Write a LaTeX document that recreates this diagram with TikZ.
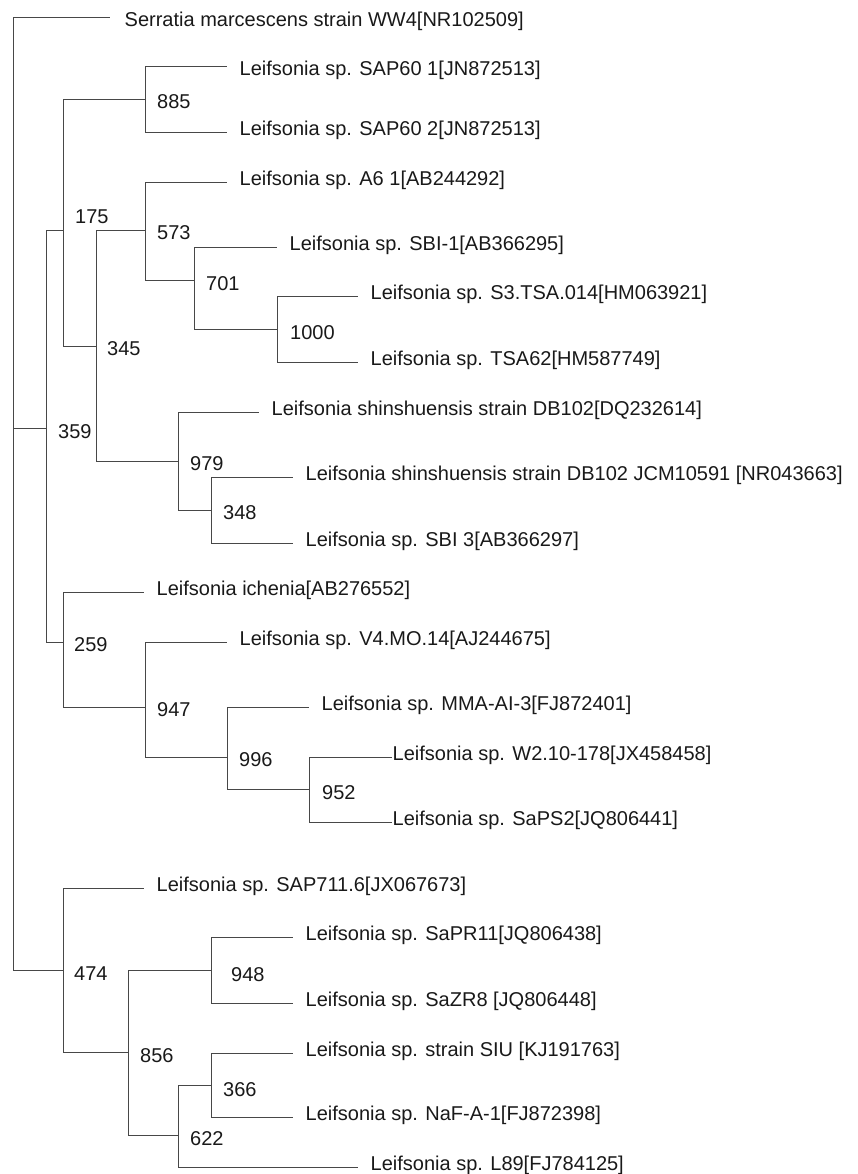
\documentclass[tikz,border=0pt]{standalone}
\usepackage{fontspec}
\setmainfont{Liberation Sans}
\begin{document}
\begin{tikzpicture}[x=1pt,y=-1pt,
  branch/.style={draw=black!72,line width=0.9pt},
  leaf/.style={anchor=west,inner xsep=12.5pt,inner ysep=0pt,text height=10pt,text depth=3.4pt,
    font=\fontsize{20}{24}\selectfont,text=black!90},
  leaflow/.style={leaf,text height=20.6pt,text depth=1pt},
  boot/.style={anchor=base west,inner sep=0pt,font=\fontsize{20}{24}\selectfont,text=black!90}]
\useasboundingbox (0,0) rectangle (857,1174);
% internal nodes
\coordinate (r) at (13,428);
\coordinate (n359) at (46,428);
\coordinate (n175) at (63,230);
\coordinate (n885) at (145,99);
\coordinate (n345) at (96,346);
\coordinate (n573) at (145,230);
\coordinate (n701) at (194,280);
\coordinate (n1000) at (277,329);
\coordinate (n979) at (178,461);
\coordinate (n348) at (211,510);
\coordinate (n259) at (63,642);
\coordinate (n947) at (145,707);
\coordinate (n996) at (227,757);
\coordinate (n952) at (309,789);
\coordinate (n474) at (63,970);
\coordinate (n856) at (128,1052);
\coordinate (n948) at (211,970);
\coordinate (n622) at (178,1135);
\coordinate (n366) at (211,1085);
% leaves
\node[leaflow,inner xsep=14.5pt] (lser) at (110,17) {Serratia marcescens strain WW4[NR102509]};
\node[leaflow] (l1) at (227,66) {Leifsonia sp. SAP60 1[JN872513]};
\node[leaf] (l2) at (227,132) {Leifsonia sp. SAP60 2[JN872513]};
\node[leaf] (l3) at (227,182) {Leifsonia sp. A6 1[AB244292]};
\node[leaf] (l4) at (277,247) {Leifsonia sp. SBI-1[AB366295]};
\node[leaf] (l5) at (358,296) {Leifsonia sp. S3.TSA.014[HM063921]};
\node[leaf] (l6) at (358,362) {Leifsonia sp. TSA62[HM587749]};
\node[leaf] (l7) at (259,412) {Leifsonia shinshuensis strain DB102[DQ232614]};
\node[leaf] (l8) at (293,477) {Leifsonia shinshuensis strain DB102 JCM10591 [NR043663]};
\node[leaf] (l9) at (293,543) {Leifsonia sp. SBI 3[AB366297]};
\node[leaf] (l10) at (144,592) {Leifsonia ichenia[AB276552]};
\node[leaf] (l11) at (227,642) {Leifsonia sp. V4.MO.14[AJ244675]};
\node[leaf] (l12) at (309,707) {Leifsonia sp. MMA-AI-3[FJ872401]};
\node[leaf,inner xsep=0.5pt] (l13) at (392,757) {Leifsonia sp. W2.10-178[JX458458]};
\node[leaf,inner xsep=0.5pt] (l14) at (392,822) {Leifsonia sp. SaPS2[JQ806441]};
\node[leaf] (l15) at (144,888) {Leifsonia sp. SAP711.6[JX067673]};
\node[leaf] (l16) at (293,937) {Leifsonia sp. SaPR11[JQ806438]};
\node[leaf] (l17) at (293,1003) {Leifsonia sp. SaZR8 [JQ806448]};
\node[leaf] (l18) at (293,1053) {Leifsonia sp. strain SIU [KJ191763]};
\node[leaf] (l19) at (293,1117.5) {Leifsonia sp. NaF-A-1[FJ872398]};
\node[leaf] (l20) at (358,1167) {Leifsonia sp. L89[FJ784125]};
% branches
\draw[branch] (r) |- (lser.west);
\draw[branch] (r) |- (n359);
\draw[branch] (r) |- (n474);
\draw[branch] (n359) |- (n175);
\draw[branch] (n359) |- (n259);
\draw[branch] (n175) |- (n885);
\draw[branch] (n175) |- (n345);
\draw[branch] (n885) |- (l1.west);
\draw[branch] (n885) |- (l2.west);
\draw[branch] (n345) |- (n573);
\draw[branch] (n345) |- (n979);
\draw[branch] (n573) |- (l3.west);
\draw[branch] (n573) |- (n701);
\draw[branch] (n701) |- (l4.west);
\draw[branch] (n701) |- (n1000);
\draw[branch] (n1000) |- (l5.west);
\draw[branch] (n1000) |- (l6.west);
\draw[branch] (n979) |- (l7.west);
\draw[branch] (n979) |- (n348);
\draw[branch] (n348) |- (l8.west);
\draw[branch] (n348) |- (l9.west);
\draw[branch] (n259) |- (l10.west);
\draw[branch] (n259) |- (n947);
\draw[branch] (n947) |- (l11.west);
\draw[branch] (n947) |- (n996);
\draw[branch] (n996) |- (l12.west);
\draw[branch] (n996) |- (n952);
\draw[branch] (n952) |- (l13.west);
\draw[branch] (n952) |- (l14.west);
\draw[branch] (n474) |- (l15.west);
\draw[branch] (n474) |- (n856);
\draw[branch] (n856) |- (n948);
\draw[branch] (n856) |- (n622);
\draw[branch] (n948) |- (l16.west);
\draw[branch] (n948) |- (l17.west);
\draw[branch] (n622) |- (n366);
\draw[branch] (n622) |- (l20.west);
\draw[branch] (n366) |- (l18.west);
\draw[branch] (n366) |- (l19.west);
% bootstrap values
\node[boot] (b885) at (157,109) {885};
\node[boot] (b175) at (75,224) {175};
\node[boot] (b573) at (157,240) {573};
\node[boot] (b701) at (206,290) {701};
\node[boot] (b1000) at (290,339) {1000};
\node[boot] (b345) at (107,355) {345};
\node[boot] (b359) at (58,438) {359};
\node[boot] (b979) at (190,470) {979};
\node[boot] (b348) at (223,519) {348};
\node[boot] (b259) at (74,651) {259};
\node[boot] (b947) at (157,716) {947};
\node[boot] (b996) at (239,766) {996};
\node[boot] (b952) at (322,799) {952};
\node[boot] (b474) at (74,980) {474};
\node[boot] (b948) at (231,981) {948};
\node[boot] (b856) at (140,1062) {856};
\node[boot] (b366) at (223,1096) {366};
\node[boot] (b622) at (190,1145) {622};
\end{tikzpicture}
\end{document}
